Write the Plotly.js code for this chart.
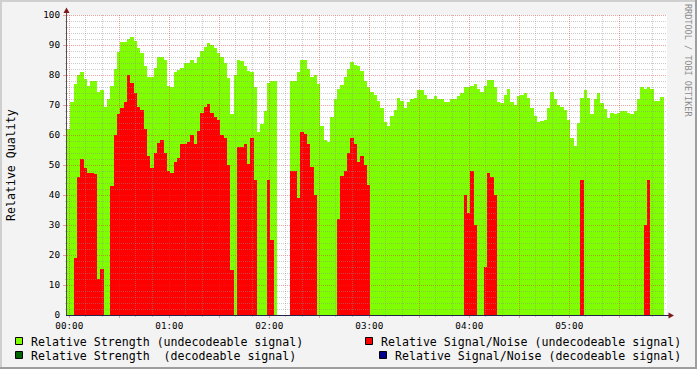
<!DOCTYPE html>
<html><head><meta charset="utf-8">
<script src="https://cdn.plot.ly/plotly-3.0.1.min.js"></script>
<style>html,body{margin:0;padding:0;background:#F3F3F3;}#chart{width:697px;height:369px;}</style>
</head><body><div id="chart"></div>
<script>
// ---- data (minutes after 00:00, one value every 2 minutes) ----
const startMinute = -1.4;
const stepMinutes = 2;
const strengthUndecodeable = [
  62, 71, 77, 80, 81, 78.7, 76.3, 78, 78, 74.5,
  75, 69.5, 72, 76.5, 82, 87.8, 91, 91, 92, 92.6,
  91.4, 89, 87.2, 83, 79.2, 79.5, 82.2, 86, 86, 85,
  76.5, 76.1, 81, 81.7, 82.5, 84.1, 84.1, 85, 84.1, 86.1,
  88, 89.4, 90.8, 90, 88.9, 87.5, 86, 84, 79, 67,
  80, 85, 84.8, 83, 81.5, 81.1, 76, 61, 63.6, 68,
  77.5, 78, 78, null, null, null, null, 78, 78, 81,
  85, 85, 82, 79.2, 80, 77, 63, 58.5, 57.8, 66,
  72, 75.2, 76.7, 79.5, 82, 84.5, 83.3, 83, 81.5, 78,
  76, 74.5, 73.5, 71.5, 69, 64.5, 63, 66.5, 68.5, 72.5,
  71.5, 69, 71, 72, 72.5, 75, 75, 73.5, 72, 72,
  73, 72, 72, 71, 71, 72, 72, 73, 74, 76,
  76, 76.5, 77, 75.3, 74.5, 76.5, 78.5, 78.5, 76, 71,
  70.6, 73.5, 75.3, 71, 70, 73, 73.5, 74, 72.5, 69,
  66.5, 64.3, 64.7, 65, 69, 74.5, 72, 70, 69.2, 68.3,
  65, 59, 56.5, 64, 72.5, 75, 72.5, 67, 72, 74,
  70.8, 68.8, 65.6, 67.3, 67, 67.5, 68, 68, 67.2, 67,
  68, 72, 75.9, 75.5, 75.9, 75.2, 71.5, 71.5, 72.8
];
const snrUndecodeable = [
  0, 0, 19, 46, 52, 49, 47.2, 47.2, 47, 12,
  15.5, 0, 0, 43, 60, 67, 69, 71, 80, 77.5,
  74, 69.5, 68.3, 62, 53, 49, 54, 57.5, 58.5, 54,
  48, 47.2, 51, 52.5, 57, 57, 57.8, 60, 57, 61.5,
  67.5, 69.5, 70.2, 67.5, 66, 65, 60, 59, 50, 15,
  0, 56, 56, 57, 50.5, 59, 45, 0, 0, 0,
  45, 25, 0, null, null, null, null, 48, 48, 39,
  61, 60.5, 57, 49.5, 40, 0, 0, 0, 0, 0,
  0, 32, 46.3, 48, 54, 59, 57, 51, 53, 50,
  43.5, 0, 0, 0, 0, 0, 0, 0, 0, 0,
  0, 0, 0, 0, 0, 0, 0, 0, 0, 0,
  0, 0, 0, 0, 0, 0, 0, 0, 0, 40,
  34, 48, 30, 0, 0, 16, 47.4, 46, 40, 0,
  0, 0, 0, 0, 0, 0, 0, 0, 0, 0,
  0, 0, 0, 0, 0, 0, 0, 0, 0, 0,
  0, 0, 0, 0, 45, 0, 0, 0, 0, 0,
  0, 0, 0, 0, 0, 0, 0, 0, 0, 0,
  0, 0, 0, 30, 45, 0, 0, 0, 0
];
const hourTicks = [0, 60, 120, 180, 240, 300];
const hourLabels = ["00:00", "01:00", "02:00", "03:00", "04:00", "05:00"];
const yTicks = [0, 10, 20, 30, 40, 50, 60, 70, 80, 90, 100];
const legendLabels = [
  "Relative Strength (undecodeable signal)",
  "Relative Signal/Noise (undecodeable signal)",
  "Relative Strength  (decodeable signal)",
  "Relative Signal/Noise (decodeable signal)"
];
const seriesColors = ["#7FFF00", "#FF0000", "#006400", "#00008B"];
const yTitle = "Relative Quality";
const watermark = "RRDTOOL / TOBI OETIKER";

// ---- geometry ----
const L = 67, T = 15, W = 600, H = 300;
const xRange = [-1.38, 358.62];
const yRange = [0, 100];
const pxX = p => (p - L) / W;
const pxY = p => (T + H - p) / H;
const mX = m => L + (m - xRange[0]) / (xRange[1] - xRange[0]) * W;
const vY = v => T + H - (v - yRange[0]) / (yRange[1] - yRange[0]) * H;
const FONT = "DejaVu Sans Mono";

const times = strengthUndecodeable.map((_, i) => startMinute + stepMinutes * (i + 0.5));
const nz = arr => arr.map(v => (v === 0 ? null : v));

const traces = [
  {type: "bar", x: times, y: nz(strengthUndecodeable), width: stepMinutes,
   marker: {color: seriesColors[0], line: {width: 0}}, hoverinfo: "skip", name: legendLabels[0]},
  {type: "bar", x: times, y: nz(snrUndecodeable), width: stepMinutes,
   marker: {color: seriesColors[1], line: {width: 0}}, hoverinfo: "skip", name: legendLabels[1]}
];

const shapes = [];
function seg(x0, y0, x1, y1, color, width, dash) {
  shapes.push({type: "line", xref: "paper", yref: "paper", layer: "above",
    x0: pxX(x0), y0: pxY(y0), x1: pxX(x1), y1: pxY(y1),
    line: {color: color, width: width || 1, dash: dash || "solid"}});
}
const minorCol = "rgba(143,143,143,0.45)";
const majorCol = "rgba(222,48,48,0.45)";
// horizontal grid
for (let v = 2; v <= 100; v += 2) {
  const y = Math.round(vY(v)) + 0.5;
  const major = v % 10 === 0;
  seg(L, y, L + W, y, major ? majorCol : minorCol, 1, "1px,1px");
  seg(major ? 63 : 65, y, 67, y, major ? majorCol : minorCol, 1);
}
// vertical grid
for (let m = 0; m < xRange[1]; m += 10) {
  const x = Math.floor(mX(m)) + 0.5;
  const major = m % 30 === 0;
  seg(x, T, x, T + H, major ? majorCol : minorCol, 1, "1px,1px");
  seg(x, T + H, x, T + H + (major ? 3 : 2), major ? majorCol : minorCol, 1);
}
// axes
seg(66.5, 12, 66.5, 316, "#505050", 1);
seg(66, 315.5, 669, 315.5, "#22224A", 1);
// arrows
shapes.push({type: "path", xref: "paper", yref: "paper", layer: "above",
  path: `M ${pxX(66.5)} ${pxY(7.5)} L ${pxX(63.5)} ${pxY(13)} L ${pxX(69.5)} ${pxY(13)} Z`,
  fillcolor: "#7F1A1A", line: {width: 0}});
shapes.push({type: "path", xref: "paper", yref: "paper", layer: "above",
  path: `M ${pxX(674)} ${pxY(315.5)} L ${pxX(668.5)} ${pxY(312.5)} L ${pxX(668.5)} ${pxY(318.5)} Z`,
  fillcolor: "#7F1A1A", line: {width: 0}});
// frame
function rectPx(x0, y0, x1, y1, fill, lineCol) {
  shapes.push({type: "rect", xref: "paper", yref: "paper", layer: "above",
    x0: pxX(x0), y0: pxY(y0), x1: pxX(x1), y1: pxY(y1),
    fillcolor: fill, line: lineCol ? {color: lineCol, width: 1} : {width: 0}});
}
rectPx(0, 0, 697, 2, "#CFCFCF");
rectPx(0, 0, 2, 369, "#CFCFCF");
rectPx(0, 367, 697, 369, "#9E9E9E");
rectPx(695, 0, 697, 369, "#9E9E9E");

// legend (manual, RRDtool style)
const legendPos = [
  {bx: 15.5, by: 337.5, tx: 30, ty: 341.5},
  {bx: 365.5, by: 337.5, tx: 380, ty: 341.5},
  {bx: 15.5, by: 351.5, tx: 30, ty: 355.5},
  {bx: 379.5, by: 351.5, tx: 394, ty: 355.5}
];
const annotations = [];
legendLabels.forEach((lab, i) => {
  const p = legendPos[i];
  rectPx(p.bx, p.by, p.bx + 7, p.by + 7, seriesColors[i], "#000000");
  annotations.push({text: lab, xref: "paper", yref: "paper", x: pxX(p.tx - 1), y: pxY(p.ty),
    xanchor: "left", yanchor: "middle", showarrow: false,
    font: {family: FONT, size: 11.6, color: "#000"}});
});
annotations.push({text: yTitle, xref: "paper", yref: "paper", x: pxX(11), y: pxY(165),
  xanchor: "center", yanchor: "middle", textangle: -90, showarrow: false,
  font: {family: FONT, size: 11.6, color: "#000"}});
annotations.push({text: watermark, xref: "paper", yref: "paper", x: pxX(688), y: pxY(60),
  xanchor: "center", yanchor: "middle", textangle: 90, showarrow: false,
  font: {family: FONT, size: 8.5, color: "#8C8C8C"}});

const layout = {
  width: 697, height: 369,
  margin: {l: L, r: 697 - L - W, t: T, b: 369 - T - H, pad: 0},
  paper_bgcolor: "#F3F3F3", plot_bgcolor: "#FFFFFF",
  barmode: "overlay", bargap: 0, showlegend: false,
  xaxis: {range: xRange, tickvals: hourTicks, ticktext: hourLabels, showgrid: false,
    zeroline: false, showline: false, ticks: "", ticklabelstandoff: 4,
    tickfont: {family: FONT, size: 9.3, color: "#000"}, fixedrange: true},
  yaxis: {range: yRange, tickvals: yTicks, showgrid: false, zeroline: false,
    showline: false, ticks: "", ticklabelstandoff: 6,
    tickfont: {family: FONT, size: 9.3, color: "#000"}, fixedrange: true},
  shapes: shapes, annotations: annotations
};
Plotly.newPlot("chart", traces, layout, {displayModeBar: false, staticPlot: true});
</script></body></html>
